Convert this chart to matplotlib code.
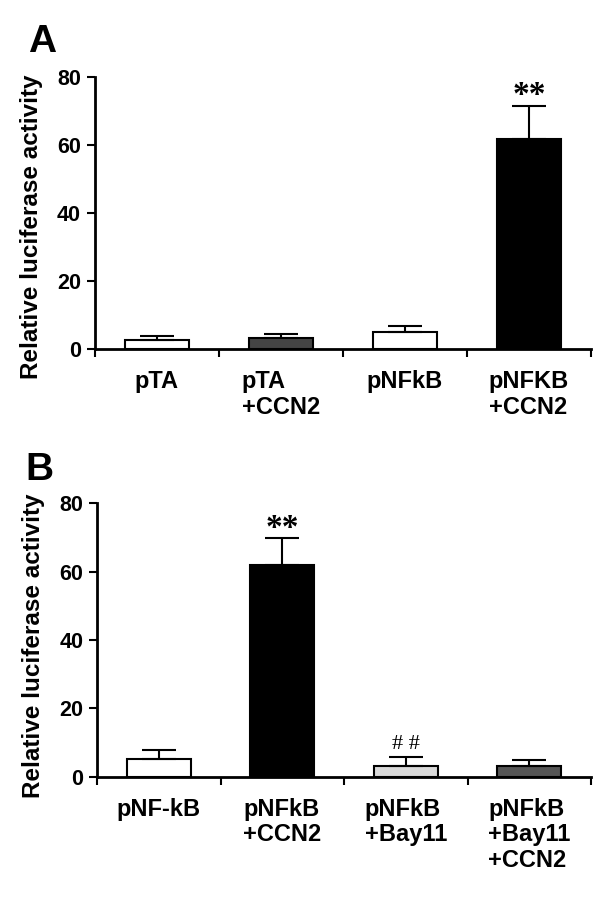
import matplotlib
matplotlib.use('Agg')
import matplotlib.pyplot as plt
from matplotlib.ticker import FixedLocator, NullLocator

plt.rcParams['font.family'] = ['Liberation Sans', 'DejaVu Sans']
plt.rcParams['font.weight'] = 'bold'

# panel A
labels_a = ['pTA', 'pTA\n+CCN2', 'pNFkB', 'pNFKB\n+CCN2']
means_a = [2.6, 3.4, 5.1, 62.0]
errs_a = [1.3, 1.2, 1.8, 9.7]
colors_a = ['white', '#444444', 'white', 'black']
marks_a = ['', '', '', '**']

# panel B
labels_b = ['pNF-kB', 'pNFkB\n+CCN2', 'pNFkB\n+Bay11', 'pNFkB\n+Bay11\n+CCN2']
means_b = [5.3, 61.9, 3.1, 3.1]
errs_b = [2.4, 7.8, 2.6, 1.9]
colors_b = ['white', 'black', '#d9d9d9', '#555555']
marks_b = ['', '**', '# #', '']

yticks = [0, 20, 40, 60, 80]

fig = plt.figure(figsize=(6, 9), dpi=100)
ax_a = fig.add_axes([0.158, 0.612, 0.827, 0.302])
ax_b = fig.add_axes([0.162, 0.137, 0.823, 0.304])


def draw_panel(ax, labels, means, errs, colors, marks, ylab_y):
    x = list(range(len(labels)))
    ax.bar(x, means, width=0.52, color=colors, edgecolor='black',
           linewidth=1.5, zorder=2)
    ax.errorbar(x, means, yerr=[[0] * len(errs), errs], fmt='none',
                ecolor='black', elinewidth=1.5, capsize=12.5,
                capthick=1.5, zorder=3)
    for xi, m, e, mk in zip(x, means, errs, marks):
        if not mk:
            continue
        if mk == '**':
            ax.text(xi, m + e - 1.6, mk, ha='center', va='bottom',
                    family='Liberation Serif', fontweight='bold',
                    fontsize=24)
        else:
            ax.text(xi, m + e + 1.0, mk, ha='center', va='bottom',
                    family='Liberation Serif', fontweight='normal',
                    fontsize=16)

    ax.set_xlim(-0.5, len(labels) - 0.5)
    ax.set_ylim(0, 80)
    ax.yaxis.set_major_locator(FixedLocator(yticks))
    ax.set_yticklabels([str(t) for t in yticks], fontsize=15.5,
                       fontweight='bold')
    ax.set_xticks(x)
    ax.set_xticklabels(labels, fontsize=17, fontweight='bold',
                       multialignment='left', linespacing=1.15)
    ax.xaxis.set_minor_locator(FixedLocator([i - 0.5 for i in range(len(labels) + 1)]))
    ax.tick_params(axis='x', which='major', length=0, pad=15)
    ax.tick_params(axis='x', which='minor', length=6, width=1.5,
                   direction='out')
    ax.tick_params(axis='y', which='major', length=6, width=1.5,
                   direction='out', pad=4)
    ax.yaxis.set_minor_locator(NullLocator())
    for side in ['top', 'right']:
        ax.spines[side].set_visible(False)
    for side in ['left', 'bottom']:
        ax.spines[side].set_linewidth(2)
    ax.set_ylabel('Relative luciferase activity', fontsize=17.5,
                  fontweight='bold')
    ax.yaxis.set_label_coords(-0.105, ylab_y)


draw_panel(ax_a, labels_a, means_a, errs_a, colors_a, marks_a, 0.452)
draw_panel(ax_b, labels_b, means_b, errs_b, colors_b, marks_b, 0.478)

fig.text(0.047, 0.933, 'A', fontsize=28, fontweight='bold',
         ha='left', va='bottom')
fig.text(0.042, 0.458, 'B', fontsize=28, fontweight='bold',
         ha='left', va='bottom')

fig.savefig('out.png', dpi=100)
